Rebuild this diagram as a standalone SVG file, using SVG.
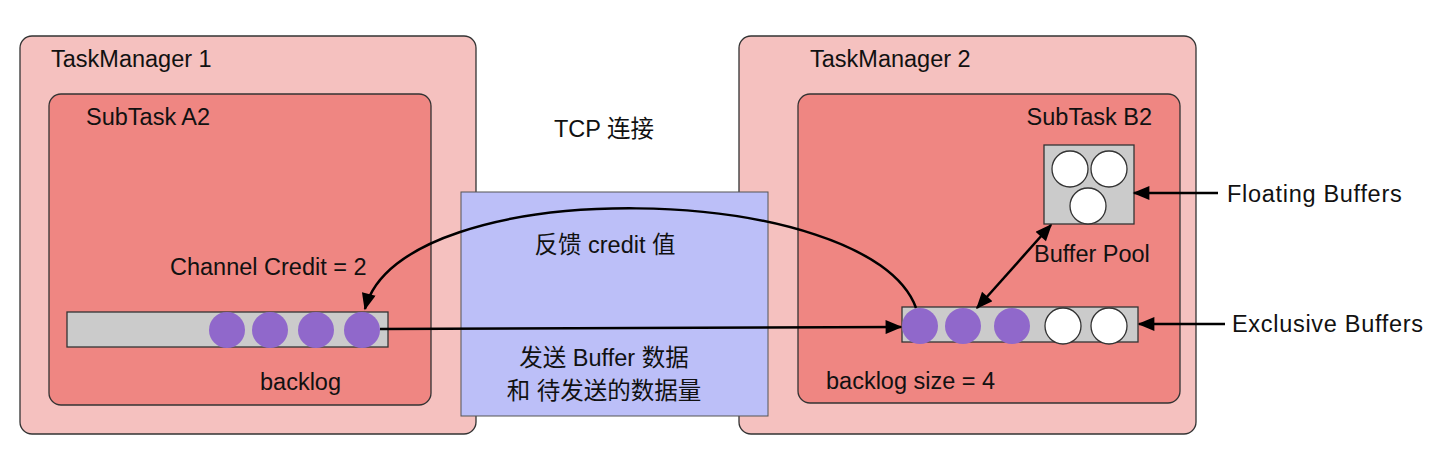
<svg xmlns="http://www.w3.org/2000/svg" width="1454" height="454" viewBox="0 0 1454 454">
<style>
text{font-family:"Liberation Sans","Noto Sans CJK SC",sans-serif;font-size:23.5px;fill:#111}
.tm{fill:#f5c1bf;stroke:#333;stroke-width:1.3}
.st{fill:#ef8682;stroke:#333;stroke-width:1.3}
.bar{fill:#cbcbcb;stroke:#333;stroke-width:1.3}
.pu{fill:#9068cb}
.wh{fill:#fff;stroke:#333;stroke-width:1.3}
.ln{fill:none;stroke:#000;stroke-width:2.5}
.mid{text-anchor:middle}
.wide{letter-spacing:0.7px}
</style>
<defs>
<marker id="ah" viewBox="0 0 12 10" refX="11" refY="5" markerWidth="18" markerHeight="14" markerUnits="userSpaceOnUse" orient="auto-start-reverse">
<path d="M0,0 L12,5 L0,10 z" fill="#000"/>
</marker>
</defs>
<rect width="1454" height="454" fill="#fff"/>
<g id="tm1">
<rect class="tm" x="20" y="36" width="456" height="398" rx="12"/>
<text x="51" y="67">TaskManager 1</text>
</g>
<g id="subA2">
<rect class="st" x="49" y="94" width="382" height="311" rx="12"/>
<text x="86" y="125">SubTask A2</text>
<text x="170" y="275">Channel Credit = 2</text>
<text x="260" y="390">backlog</text>
</g>
<g id="backlogA">
<rect class="bar" x="67" y="312" width="321" height="35"/>
<circle class="pu" cx="227" cy="330" r="18"/>
<circle class="pu" cx="270" cy="330" r="18"/>
<circle class="pu" cx="316" cy="330" r="18"/>
<circle class="pu" cx="362" cy="330" r="18"/>
</g>
<g id="tm2">
<rect class="tm" x="739" y="36" width="457" height="398" rx="12"/>
<text x="810" y="67">TaskManager 2</text>
</g>
<g id="subB2">
<rect class="st" x="798" y="94" width="382" height="309" rx="12"/>
<text x="1152" y="125" text-anchor="end">SubTask B2</text>
<text x="826" y="389">backlog size = 4</text>
</g>
<g id="bufferPool">
<rect class="bar" x="1044" y="145" width="90" height="79"/>
<circle class="wh" cx="1070" cy="169" r="18"/>
<circle class="wh" cx="1109" cy="169" r="18"/>
<circle class="wh" cx="1088" cy="206" r="18"/>
<text x="1034" y="262">Buffer Pool</text>
</g>
<g id="exclusive">
<rect class="bar" x="902" y="307" width="236" height="35"/>
<circle class="pu" cx="920" cy="326" r="18"/>
<circle class="pu" cx="963" cy="326" r="18"/>
<circle class="pu" cx="1012" cy="326" r="18"/>
<circle class="wh" cx="1063" cy="326" r="18"/>
<circle class="wh" cx="1109" cy="326" r="18"/>
</g>
<g id="tcp">
<text x="604" y="137" class="mid">TCP 连接</text>
<rect x="461" y="192" width="307" height="224" fill="#bcbff8" stroke="#555" stroke-width="1"/>
<text x="605" y="253" class="mid">反馈 credit 值</text>
<text x="604" y="366" class="mid">发送 Buffer 数据</text>
<text x="604" y="399" class="mid">和 待发送的数据量</text>
</g>
<g id="labels">
<text x="1227" y="202" class="wide">Floating Buffers</text>
<text x="1232" y="332" class="wide">Exclusive Buffers</text>
</g>
<g id="connectors">
<path class="ln" d="M380,329 L901,327" marker-end="url(#ah)" stroke-width="2.2"/>
<path class="ln" d="M916,308 C870,180 400,170 365,309" marker-end="url(#ah)"/>
<path class="ln" d="M977,308 L1051,225" stroke-width="3.5" marker-start="url(#ah)" marker-end="url(#ah)"/>
<path class="ln" d="M1218,193 L1134,193" marker-end="url(#ah)"/>
<path class="ln" d="M1225,324 L1139,324" marker-end="url(#ah)"/>
</g>
</svg>
